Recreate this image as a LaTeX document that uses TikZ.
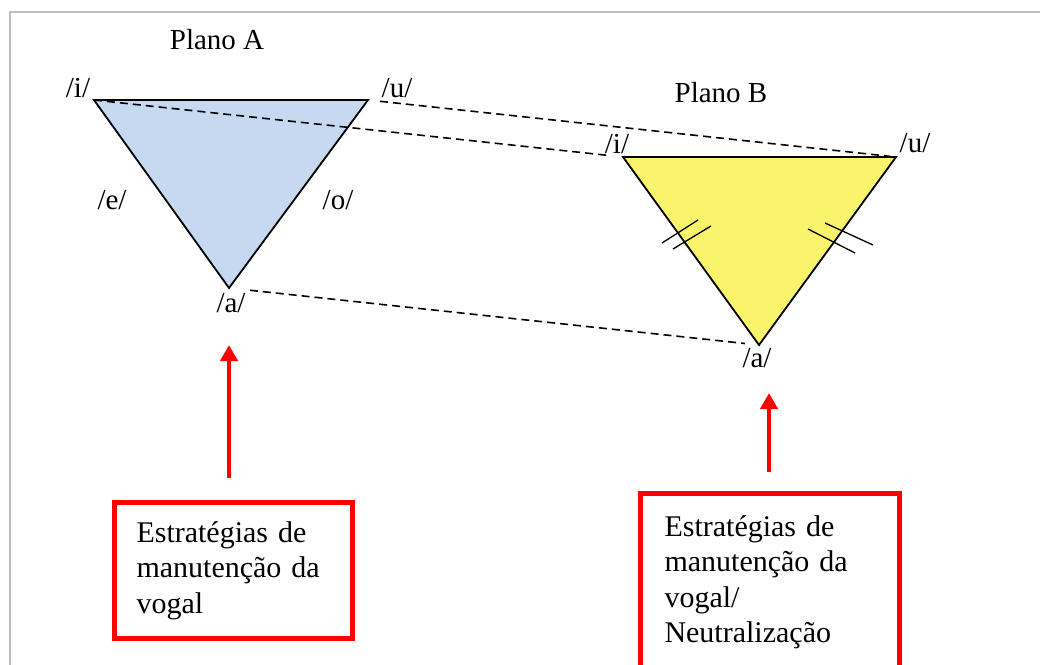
\documentclass[tikz,border=0pt]{standalone}
\usepackage{fontspec}
\setmainfont{Liberation Serif}
\usetikzlibrary{arrows.meta}
\definecolor{triblue}{RGB}{198,217,240}
\definecolor{triyellow}{RGB}{250,244,108}
\definecolor{framegray}{RGB}{190,190,190}
\begin{document}
\begin{tikzpicture}[x=1pt,y=-1pt,
  lbl/.style={inner sep=0pt,font=\rmfamily\fontsize{29}{34}\selectfont},
  tri/.style={draw=black,line width=1.8pt,line join=miter},
  dashline/.style={draw=black,line width=1.6pt,dash pattern=on 8pt off 5pt},
  tick/.style={draw=black,line width=1.3pt},
  redbox/.style={draw=red,line width=5pt,align=left,anchor=north west,
    font=\rmfamily\fontsize{30}{35.5}\selectfont,inner ysep=0pt},
  redarrow/.style={draw=red,line width=4.5pt,-{Triangle[length=16pt,width=17pt]}},
  framestyle/.style={draw=framegray,line width=2pt}]
\path[use as bounding box,clip] (0,0) rectangle (1040,664);
\fill[white] (0,0) rectangle (1040,664);
\draw[framestyle] (10,700) -- (10,12) -- (1100,12);

% triangle vertices
\coordinate (iA) at (94,100);
\coordinate (uA) at (368,100);
\coordinate (aA) at (229,288);
\coordinate (iB) at (623,157);
\coordinate (uB) at (896,157);
\coordinate (aB) at (759,345);

\filldraw[tri,fill=triblue] (iA) -- (uA) -- (aA) -- cycle;
\filldraw[tri,fill=triyellow] (iB) -- (uB) -- (aB) -- cycle;

% dashed correspondences
\draw[dashline,shorten >=16pt] (iA) -- (iB);
\draw[dashline,shorten <=12pt,shorten >=6pt] (uA) -- (uB);
\draw[dashline,shorten <=21pt,shorten >=14pt] (aA) -- (aB);

% tick marks on plane B
\draw[tick] (662,243) -- (698,220);
\draw[tick] (673,249) -- (711,226);
\draw[tick] (825,223) -- (873,245);
\draw[tick] (808,229) -- (855,253);

% labels
\node[lbl] (planoA) at (217,40) {Plano A};
\node[lbl] (planoB) at (721,93) {Plano B};
\node[lbl] (liA) at (78,88) {/i/};
\node[lbl] (luA) at (397,88) {/u/};
\node[lbl] (leA) at (112,200) {/e/};
\node[lbl] (loA) at (338,200) {/o/};
\node[lbl] (laA) at (231,303) {/a/};
\node[lbl] (liB) at (617,144) {/i/};
\node[lbl] (luB) at (915,143) {/u/};
\node[lbl] (laB) at (757,358) {/a/};

% red boxes
\node[redbox,inner xsep=22pt,text width=194pt,minimum height=136pt] (boxA) at (112,500)
  {Estratégias de\\manutenção da\\vogal};
\node[redbox,inner xsep=24pt,text width=211pt,minimum height=178pt] (boxB) at (638,491)
  {Estratégias de\\manutenção da\\vogal/\\Neutralização};

\coordinate (tipA) at (229,345);
\coordinate (tipB) at (769,393);
\draw[redarrow] (boxA.north -| tipA) ++(0,-22) -- (tipA);
\draw[redarrow] (boxB.north -| tipB) ++(0,-19) -- (tipB);
\end{tikzpicture}
\end{document}
